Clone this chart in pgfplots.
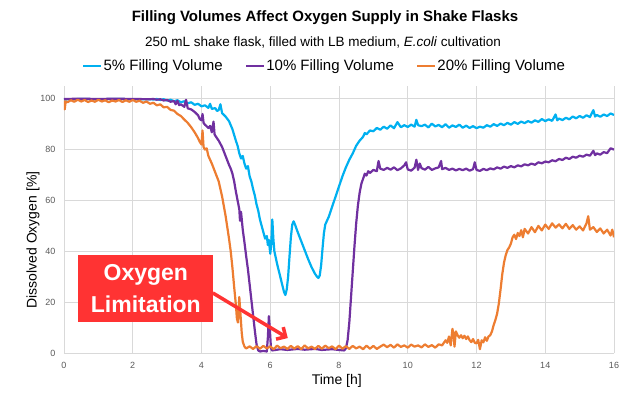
\documentclass[border=0pt]{standalone}
\usepackage{pgfplots}
\pgfplotsset{compat=1.18}
\usepackage{fontspec}
\setmainfont{Liberation Sans}
\usetikzlibrary{arrows.meta}
\definecolor{cyanc}{HTML}{00B0F0}
\definecolor{purplec}{HTML}{7030A0}
\definecolor{orangec}{HTML}{ED7D31}
\definecolor{gridgray}{HTML}{D9D9D9}
\definecolor{tickgray}{HTML}{595959}
\definecolor{boxred}{HTML}{FF3333}
\begin{document}
\begin{tikzpicture}
\useasboundingbox (-64bp,-47bp) rectangle (576bp,353bp);
\begin{axis}[
  at={(0,0)}, anchor=south west,
  scale only axis, width=550bp, height=267bp,
  xmin=0, xmax=16, ymin=0, ymax=105,
  xtick={0,2,...,16}, ytick={0,20,...,100},
  grid=major, grid style={draw=gridgray, line width=0.8bp},
  axis line style={draw=none},
  major tick length=0pt,
  tick label style={font=\fontsize{9bp}{9bp}\selectfont, text=tickgray},
  /pgf/number format/assume math mode=true,
  xticklabel style={yshift=-6bp},
  yticklabel style={xshift=-5bp},
  xlabel={Time [h]}, ylabel={Dissolved Oxygen [\%]},
  label style={font=\fontsize{14bp}{14bp}\selectfont},
  xlabel style={at={(axis description cs:0.496,0)}, anchor=center, yshift=-28bp},
  ylabel style={at={(axis description cs:-0.0564,0.423)}, anchor=center},
  legend columns=3,
  legend style={draw=none, fill=none, at={(0.4727,1.075)}, anchor=center,
    font=\fontsize{15bp}{15bp}\selectfont, inner sep=0pt,
    nodes={inner xsep=1bp, inner ysep=1bp},
    /tikz/every even column/.append style={column sep=21bp}},
  legend image code/.code={\draw[#1, line width=2.6bp] (0bp,0bp) -- (18bp,0bp);},
  every axis plot/.append style={line width=2.2bp, line join=round},
]
% 5% filling volume
\addplot[cyanc] coordinates {
(0,99.7)(0.5,99.9)(1,99.8)(1.5,99.9)(2,99.8)(2.5,99.8)
(2.6,99.7)(2.7,99.9)(2.8,99.5)(2.9,99.8)(3.0,99.3)(3.1,99.6)(3.2,99.0)(3.3,99.4)(3.4,98.6)(3.5,99.0)
(3.6,98.2)(3.7,98.6)(3.8,97.6)(3.9,98.0)(4.0,97.0)(4.1,97.4)(4.2,96.4)(4.25,98.0)(4.3,96.0)(4.4,96.3)
(4.45,95.2)(4.5,95.5)(4.55,97.8)(4.6,94.3)(4.7,93.0)(4.8,91.2)(4.9,88.0)(5.0,83.5)(5.05,81.5)(5.1,78.5)
(5.15,76.5)(5.2,77.5)(5.25,74.5)(5.3,72.5)(5.35,73.5)(5.4,69.5)(5.45,67.5)(5.5,64.5)(5.55,62.0)(5.6,58.5)
(5.65,56.0)(5.7,52.5)(5.75,50.0)(5.8,47.5)(5.85,45.0)(5.9,46.0)(5.93,42.5)(5.96,44.5)(6.0,39.0)(6.03,43.0)
(6.06,52.5)(6.09,45.0)(6.12,40.0)(6.2,35.0)(6.3,29.5)(6.4,24.0)(6.44,22.8)(6.48,25.0)(6.52,30.0)(6.56,38.0)
(6.6,45.5)(6.64,50.5)(6.68,51.8)(6.72,50.5)(6.8,47.5)(6.9,44.0)(7.0,40.5)(7.1,37.0)(7.2,33.8)(7.3,31.2)
(7.36,30.0)(7.4,29.5)(7.44,30.5)(7.48,34.5)(7.52,41.0)(7.56,47.0)(7.6,50.5)(7.7,53.5)(7.8,57.5)(7.9,61.5)
(8.0,65.5)(8.1,69.5)(8.2,73.0)(8.3,76.0)(8.4,78.5)(8.5,81.5)(8.6,83.5)(8.7,85.0)(8.75,86.5)(8.8,86.0)
(8.9,87.5)(9.0,87.2)(9.1,88.5)(9.2,87.8)(9.3,89.0)(9.4,88.2)(9.5,89.5)(9.6,88.4)(9.7,90.8)(9.8,88.8)
(9.9,89.6)(10.0,88.9)(10.1,89.8)(10.2,89.0)(10.25,91.7)(10.3,89.6)(10.4,89.2)(10.5,89.8)(10.6,88.7)(10.7,90.2)
(10.8,89.1)(10.9,89.7)(11.0,88.8)(11.1,90.0)(11.2,88.6)(11.3,89.5)(11.4,88.9)(11.5,89.8)(11.6,88.6)(11.7,89.4)
(11.8,88.5)(11.9,89.2)(12.0,88.4)(12.1,89.0)(12.2,88.6)(12.3,89.6)(12.4,89.0)(12.5,90.0)(12.6,89.3)(12.7,90.2)
(12.8,89.6)(12.9,90.5)(13.0,89.8)(13.1,90.8)(13.2,90.1)(13.3,91.0)(13.4,90.4)(13.5,91.2)(13.6,90.6)(13.7,91.5)
(13.8,90.9)(13.9,92.0)(14.0,91.2)(14.1,91.9)(14.2,91.3)(14.3,93.8)(14.35,91.5)(14.4,92.2)(14.5,91.6)(14.6,92.5)
(14.7,91.9)(14.8,93.0)(14.9,92.3)(15.0,93.2)(15.1,92.5)(15.2,93.5)(15.3,92.8)(15.4,95.5)(15.45,93.0)(15.5,93.6)
(15.6,92.9)(15.7,93.8)(15.8,93.2)(15.9,94.2)(16.0,93.6)
};
\addlegendentry{5\% Filling Volume}
% 10% filling volume
\addplot[purplec] coordinates {
(0,99.9)(0.5,100)(1,99.9)(1.5,100)(2,99.9)(2.5,99.8)(2.6,99.9)(2.7,99.6)(2.8,99.8)(2.9,99.3)
(3.0,99.5)(3.1,98.8)(3.2,99.1)(3.25,97.8)(3.3,99.2)(3.35,97.5)(3.4,97.8)(3.5,96.8)(3.55,99.6)(3.6,96.2)
(3.7,95.8)(3.8,94.8)(3.9,93.5)(3.95,92.0)(4.0,91.5)(4.03,94.0)(4.06,90.5)(4.1,89.8)(4.2,88.5)(4.25,89.3)
(4.3,86.8)(4.35,91.0)(4.38,86.0)(4.4,85.5)(4.5,83.5)(4.6,81.0)(4.7,77.5)(4.8,74.0)(4.85,72.5)(4.9,70.5)
(4.95,67.5)(5.0,63.5)(5.05,60.0)(5.1,56.5)(5.12,52.0)(5.15,55.5)(5.2,48.5)(5.25,43.5)(5.3,38.0)(5.35,33.0)
(5.4,27.0)(5.45,21.0)(5.5,15.0)(5.55,9.0)(5.6,3.5)(5.65,1.0)(5.7,0.6)(5.8,0.8)(5.9,0.6)(5.93,6.0)
(5.96,14.5)(5.99,9.0)(6.02,2.0)(6.05,1.0)(6.3,1.5)(6.5,1.2)(6.8,1.6)(7.0,1.3)(7.3,1.6)(7.5,1.2)
(7.8,1.5)(8.0,1.2)(8.15,1.0)(8.2,1.8)(8.25,5.0)(8.3,12.0)(8.35,22.0)(8.4,32.0)(8.45,42.0)(8.5,51.0)
(8.55,58.0)(8.6,63.0)(8.65,66.5)(8.7,68.5)(8.75,70.5)(8.8,69.8)(8.85,71.5)(8.9,70.8)(9.0,72.0)(9.1,71.5)
(9.15,75.5)(9.2,72.5)(9.3,72.0)(9.4,72.8)(9.5,72.1)(9.6,73.0)(9.7,71.9)(9.8,72.6)(9.9,73.8)(9.95,75.0)
(10.0,72.2)(10.1,71.7)(10.2,72.9)(10.25,76.0)(10.3,72.0)(10.35,74.5)(10.4,72.7)(10.5,72.1)(10.6,73.2)(10.7,72.0)
(10.8,72.6)(10.9,73.0)(10.97,75.5)(11.0,72.3)(11.1,72.8)(11.2,72.0)(11.3,72.5)(11.4,71.8)(11.5,72.4)(11.6,71.9)
(11.7,72.5)(11.8,71.7)(11.9,72.3)(11.95,75.0)(12.0,72.0)(12.1,71.6)(12.2,72.4)(12.3,71.9)(12.4,72.6)(12.5,72.2)
(12.6,73.0)(12.7,72.5)(12.8,73.3)(12.9,72.8)(13.0,73.5)(13.1,73.0)(13.2,73.8)(13.3,73.4)(13.4,74.2)(13.5,73.8)
(13.6,74.5)(13.7,74.0)(13.8,75.0)(13.9,74.6)(14.0,75.3)(14.1,75.0)(14.2,75.8)(14.3,75.4)(14.4,76.3)(14.5,75.9)
(14.6,76.8)(14.7,76.3)(14.8,77.2)(14.9,76.8)(15.0,77.6)(15.1,77.2)(15.2,78.0)(15.3,77.6)(15.4,79.5)(15.45,77.8)
(15.5,78.5)(15.6,78.0)(15.7,79.0)(15.8,78.6)(15.9,80.5)(16.0,80.0)
};
\addlegendentry{10\% Filling Volume}
% 20% filling volume
\addplot[orangec] coordinates {
(0,99.3)(0.02,95.8)(0.05,99.0)(0.1,98.6)(0.2,99.4)(0.3,98.8)(0.4,99.6)(0.5,98.9)(0.6,99.5)(0.7,98.7)
(0.8,99.3)(0.9,98.8)(1.0,99.6)(1.1,98.9)(1.2,99.4)(1.3,98.6)(1.4,99.3)(1.5,98.9)(1.6,99.5)(1.7,98.7)
(1.8,99.4)(1.9,98.8)(2.0,99.5)(2.1,98.8)(2.2,99.2)(2.3,98.4)(2.4,98.9)(2.5,98.0)(2.6,98.4)(2.7,97.4)
(2.8,97.8)(2.9,96.6)(3.0,96.8)(3.1,95.6)(3.2,95.3)(3.3,94.0)(3.4,93.2)(3.5,91.8)(3.6,90.5)(3.7,88.8)
(3.8,86.8)(3.9,84.5)(3.95,83.0)(4.0,82.0)(4.03,87.5)(4.06,81.0)(4.1,80.0)(4.15,80.5)(4.2,77.5)(4.3,74.5)
(4.4,71.0)(4.5,67.5)(4.6,61.5)(4.7,54.0)(4.8,45.0)(4.85,40.0)(4.9,33.5)(4.95,26.0)(5.0,19.0)(5.03,13.5)
(5.06,12.0)(5.1,22.0)(5.13,16.0)(5.17,8.0)(5.2,4.5)(5.25,2.5)(5.3,1.8)(5.4,2.6)(5.5,1.6)(5.6,2.7)
(5.7,1.7)(5.8,2.8)(5.9,1.8)(6.0,2.6)(6.1,1.5)(6.2,2.9)(6.3,1.9)(6.4,2.5)(6.5,1.6)(6.6,2.8)
(6.7,1.7)(6.8,2.7)(6.9,1.5)(7.0,3.0)(7.1,1.8)(7.2,2.5)(7.3,1.6)(7.4,2.8)(7.5,1.7)(7.6,2.9)
(7.7,1.9)(7.8,2.6)(7.9,1.5)(8.0,2.9)(8.1,1.7)(8.2,2.7)(8.3,1.6)(8.4,2.8)(8.5,1.8)(8.6,2.5)
(8.7,1.5)(8.8,2.9)(8.9,1.7)(9.0,2.8)(9.1,1.6)(9.2,2.5)(9.3,3.3)(9.4,2.3)(9.5,3.2)(9.6,2.1)
(9.7,3.4)(9.8,2.4)(9.9,3.0)(10.0,2.1)(10.1,3.3)(10.2,2.5)(10.3,3.0)(10.4,2.2)(10.5,3.4)(10.6,2.4)
(10.7,3.1)(10.8,2.1)(10.9,3.4)(11.0,3.0)(11.1,5.0)(11.15,4.0)(11.2,6.5)(11.25,3.0)(11.3,9.5)(11.33,7.5)
(11.36,2.5)(11.4,8.5)(11.45,7.0)(11.5,6.0)(11.55,7.0)(11.6,5.8)(11.65,6.8)(11.7,5.5)(11.75,6.5)(11.8,5.0)
(11.85,4.3)(11.9,5.5)(11.95,4.0)(12.0,3.8)(12.05,5.2)(12.1,1.5)(12.15,5.0)(12.2,4.2)(12.25,6.2)(12.3,4.8)
(12.35,6.5)(12.4,7.0)(12.45,8.5)(12.5,11.0)(12.55,13.0)(12.6,15.5)(12.65,19.5)(12.7,25.0)(12.75,31.0)(12.8,35.5)
(12.85,38.5)(12.9,40.5)(12.95,41.5)(13.0,43.0)(13.05,45.5)(13.1,46.5)(13.15,44.8)(13.2,47.2)(13.25,46.0)(13.3,48.3)
(13.35,45.5)(13.4,48.8)(13.5,47.0)(13.6,49.5)(13.7,47.5)(13.8,50.0)(13.9,48.2)(14.0,50.5)(14.1,48.8)(14.2,51.0)
(14.3,49.3)(14.4,50.6)(14.5,49.0)(14.6,50.8)(14.7,48.8)(14.8,50.3)(14.9,48.5)(15.0,49.8)(15.1,48.2)(15.2,51.0)
(15.25,53.8)(15.3,48.5)(15.4,49.5)(15.5,47.6)(15.6,49.0)(15.7,47.0)(15.8,48.5)(15.9,46.2)(15.95,48.5)(16.0,45.5)
};
\addlegendentry{20\% Filling Volume}
% annotation
\fill[boxred] (axis cs:0.41,12.2) rectangle (axis cs:4.33,38.6);
\node[text=white, anchor=base, font=\bfseries\fontsize{23bp}{23bp}\selectfont] at (axis cs:2.38,28.7) {Oxygen};
\node[text=white, anchor=base, font=\bfseries\fontsize{23bp}{23bp}\selectfont] at (axis cs:2.38,15.9) {Limitation};
\draw[boxred, line width=3.5bp, -{Straight Barb[length=7bp, width=14bp]}] (axis cs:4.33,23.6) -- (axis cs:6.51,5.9);
\end{axis}
\node[font=\bfseries\fontsize{15bp}{15bp}\selectfont] at (261bp,335bp) {Filling Volumes Affect Oxygen Supply in Shake Flasks};
\node[font=\fontsize{13.5bp}{13.5bp}\selectfont] at (259bp,311bp) {250 mL shake flask, filled with LB medium, \textit{E.coli} cultivation};
\end{tikzpicture}
\end{document}
